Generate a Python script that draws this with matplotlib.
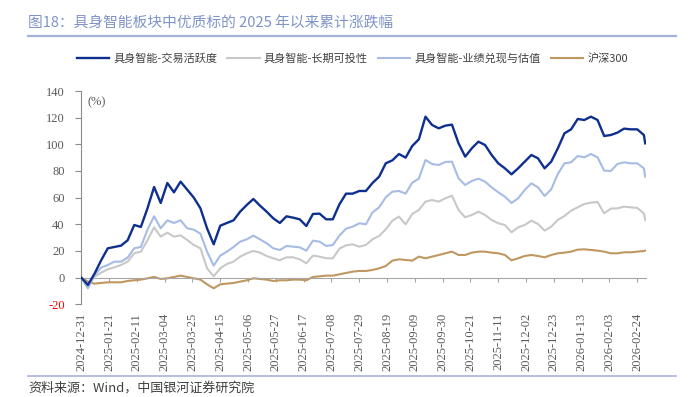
import matplotlib
matplotlib.use("Agg")
import matplotlib.pyplot as plt
import matplotlib.dates as mdates
from matplotlib.lines import Line2D
import pandas as pd

plt.rcParams['font.family'] = ['Noto Sans CJK SC', 'DejaVu Sans']

# dates: every 5 calendar days from 2024-12-31, plus the last trading day
dates = list(pd.date_range('2024-12-31', periods=86, freq='5D')) + [pd.Timestamp('2026-03-02')]

active = [0, -5.5, 3, 13, 22, 23, 24, 28, 39.5, 38,
          52, 68, 56, 71, 64, 72, 66, 60, 52, 37,
          25, 39, 41, 43, 49.5, 54.5, 59, 54, 49.5, 44.5,
          41, 46, 45, 43.75, 38.75, 47.75, 48, 43.75, 43.75, 55,
          63, 63, 65, 65, 71, 75.75, 85.75, 88, 92.75, 90,
          98.75, 103.75, 120.75, 114.5, 112, 114, 114.75, 100.75, 90.75, 97,
          102, 99.5, 92, 85.75, 82, 77.5, 82, 87, 92, 89.5,
          82, 87, 97, 108.25, 111.25, 119, 118.25, 120.75, 118.25, 106.25,
          107, 108.75, 111.75, 111.25, 111.25, 107, 100.75]

longterm = [0, -6, 0.75, 3.75, 6.25, 7.75, 9.5, 12, 18.25, 19.5,
            28, 37.75, 30.75, 33.75, 30.75, 31.75, 28.25, 24.5, 22, 7,
            1, 7, 10.25, 12, 15.75, 18.25, 20, 18.75, 16.25, 14.5,
            13, 15.25, 15.25, 13.75, 10.75, 16.5, 15.75, 14.5, 14.5, 21.75,
            24.25, 25, 23.25, 24.5, 28.75, 31.25, 36.25, 42.75, 45.75, 40,
            47.75, 50.75, 57, 58.25, 57, 59.5, 61.5, 50.75, 45.25, 47,
            49.5, 47, 43.25, 40.75, 39.5, 34, 37.75, 39.5, 42.75, 40.25,
            35.25, 38.25, 43.25, 46.25, 50.25, 52.75, 55.25, 56.25, 56.75, 48.25,
            51.75, 52, 53.25, 52.75, 52.25, 48.25, 43.25]

valuation = [0, -8, 2, 7.5, 9.5, 12, 12, 15, 22, 23,
             36, 46, 37, 43, 41, 43, 37, 36, 33, 19.5,
             9, 16.5, 19.5, 23, 27, 28.75, 31.5, 28.75, 25.75, 22,
             20.75, 23.75, 23.25, 22.75, 20.25, 27.75, 27, 23.75, 24.5, 31.5,
             36.75, 38.25, 40.75, 40, 49, 52.75, 60.25, 64.5, 65, 63,
             71.25, 74.25, 88.25, 85.25, 84.5, 86.75, 87, 74.5, 69.5, 72.5,
             74.25, 72, 67.75, 64, 60.75, 56, 59.5, 65.75, 70.75, 67.75,
             61.25, 66.25, 77.75, 85.75, 86.5, 91.25, 90.25, 92.75, 90.25, 80.25,
             80, 85.25, 86.5, 85.75, 85.75, 82, 75.75]

hs300 = [0, -3, -4.5, -4, -3.5, -3.5, -3.5, -2.5, -2, -1.5,
         -0.5, 0.5, -1, -0.5, 0.5, 1.5, 0.5, -0.5, -1.5, -5,
         -8, -5, -4.5, -4, -3, -2, -0.5, -1, -1.5, -2.5,
         -2, -2, -1.5, -1.5, -2, 0.5, 1, 1.5, 1.5, 2.5,
         3.5, 4.5, 5, 5, 5.75, 7, 8.75, 12.75, 13.75, 13.25,
         12.75, 15.75, 14.5, 15.75, 17, 18.25, 19.5, 17, 17, 18.75,
         19.5, 19.5, 18.75, 18.25, 17, 13, 14.5, 16.25, 17, 16.25,
         15.25, 17, 18.25, 18.75, 19.5, 21, 21.25, 20.75, 20.25, 19.5,
         18.25, 18.25, 19, 19, 19.5, 20, 20.25]

names = ['具身智能-交易活跃度', '具身智能-长期可投性', '具身智能-业绩兑现与估值', '沪深300']
colors = ['#0e2f8e', '#c8c8c8', '#a6bce4', '#bf9760']
yticks = [-20, 0, 20, 40, 60, 80, 100, 120, 140]
xticks = pd.date_range('2024-12-31', '2026-02-24', freq='21D')

W, H = 691, 397
fig = plt.figure(figsize=(W / 100, H / 100), dpi=100)
ax = fig.add_axes([80.7 / W, 1 - 304.3 / H, (646 - 80.7) / W, (304.3 - 91) / H])

series = [active, longterm, valuation, hs300]
widths = [1.7, 1.5, 1.5, 1.5]
handles = []
for vals, c, lw, z in zip(series, colors, widths, [5, 3, 4, 2]):
    h, = ax.plot(dates, vals, color=c, lw=lw, zorder=z, solid_joinstyle='round')
    handles.append(h)

x0 = mdates.date2num(pd.Timestamp('2024-12-31'))
ax.set_xlim(x0 - 0.45, x0 + 426.6)
ax.set_ylim(-20, 140)

for s in ['top', 'right']:
    ax.spines[s].set_visible(False)
ax.spines['bottom'].set_position(('data', 0))
ax.spines['bottom'].set_color('#a6a6a6')
ax.spines['left'].set_color('#8c8c8c')

ax.set_yticks(yticks)
ax.set_yticklabels([str(v) for v in yticks], fontfamily='Liberation Serif', fontsize=9, color='#595959')
ax.get_yticklabels()[0].set_color('red')
ax.tick_params(axis='y', direction='out', length=4, pad=7.5, color='#8c8c8c', width=0.8)

ax.set_xticks(xticks)
ax.set_xticklabels([d.strftime('%Y-%m-%d') for d in xticks], rotation=90,
                   fontfamily='Liberation Serif', fontsize=9, color='#595959')
ax.tick_params(axis='x', direction='out', length=3, pad=22.5, color='#a6a6a6', width=0.8)

fig.text(87 / W, 1 - 102.7 / H, '(%)', fontfamily='Liberation Serif', fontsize=9,
         color='#595959', va='center')

fig.text(28 / W, 1 - 23.3 / H, '图18：具身智能板块中优质标的 2025 年以来累计涨跌幅',
         fontsize=10.6, color='#7f94c6', va='center')
fig.add_artist(Line2D([28 / W, 676 / W], [1 - 36 / H] * 2, color='#a4b4d8', lw=1.6))
fig.add_artist(Line2D([28 / W, 676 / W], [1 - 376 / H] * 2, color='#a4b4d8', lw=1.2))

fig.legend(handles, names, loc='center', bbox_to_anchor=(0.51, 1 - 58.3 / H), ncol=4,
           frameon=False, fontsize=8, labelcolor='#404040', handlelength=2.9,
           handletextpad=0.4, columnspacing=0.9)

fig.text(28 / W, 1 - 388 / H, '资料来源：Wind，中国银河证券研究院', fontsize=9.4,
         style='italic', color='#404040', va='center')

fig.savefig('out.png', dpi=100)
